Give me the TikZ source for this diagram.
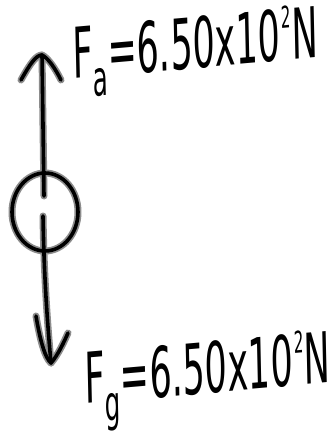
\documentclass[tikz,border=0pt]{standalone}
\usepackage{fontspec}
\setmainfont{DejaVu Sans}
\newcommand{\suptwo}{\kern3pt\raisebox{0.46em}{\fontsize{30}{30}\selectfont 2}\kern1pt}
\tikzset{
  halo/.style={draw=black!45, line width=7pt, line cap=round, line join=round},
  ink/.style={draw=black, line width=3.6pt, line cap=round, line join=round},
  lbl/.style={inner sep=0pt, anchor=base west, font=\fontsize{70}{70}\selectfont, xscale=0.5, rotate=2.5}
}
\begin{document}
\begin{tikzpicture}[x=1pt,y=-1pt]
\useasboundingbox (0,0) rectangle (336,436);
% coordinates
\coordinate (uptip) at (42,55);
\coordinate (upend) at (44,196);
\coordinate (upL) at (21,80);
\coordinate (upR) at (61,80);
\coordinate (dnstart) at (43,216);
\coordinate (dntip) at (51,363);
\coordinate (dnL) at (36,316);
\coordinate (dnR) at (68,333);
\coordinate (ctr) at (45,212);
\foreach \s in {halo,ink}{
  \draw[\s] (upend) -- (uptip);
  \draw[\s] (upL) .. controls (30,64) and (36,55) .. (uptip) .. controls (48,58) and (55,68) .. (upR);
  \draw[\s] (ctr) ellipse [x radius=33, y radius=39];
  \draw[\s] (dnstart) .. controls (44,280) and (48,330) .. (dntip);
  \draw[\s] (dnL) .. controls (40,340) and (45,358) .. (dntip) .. controls (58,355) and (64,342) .. (dnR);
}
\node[lbl] (fa) at (73,79) {F\textsubscript{a}=6.50x10\suptwo N};
\node[lbl] (fg) at (85,404) {F\textsubscript{g}=6.50x10\suptwo N};
\end{tikzpicture}
\end{document}
